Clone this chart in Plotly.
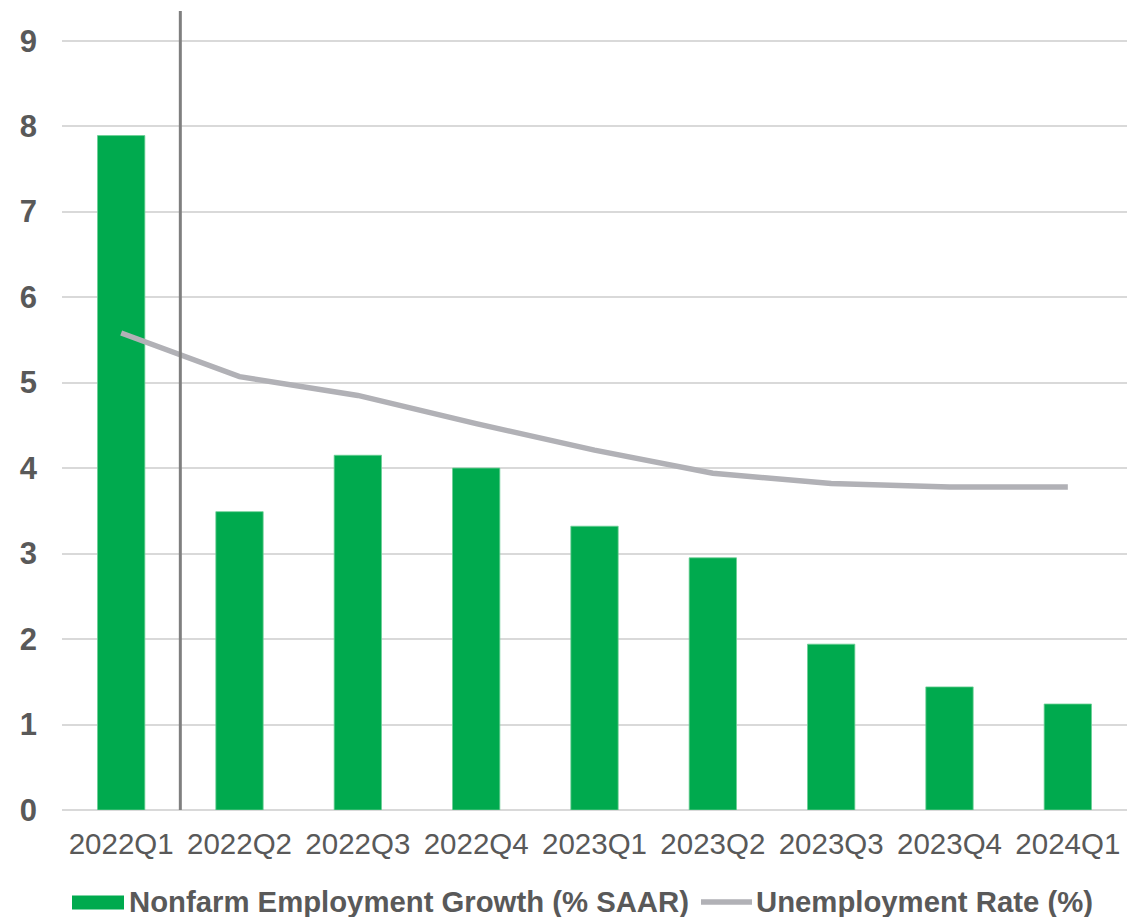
import plotly.graph_objects as go

quarters = ["2022Q1", "2022Q2", "2022Q3", "2022Q4", "2023Q1", "2023Q2", "2023Q3", "2023Q4", "2024Q1"]
employment_growth = [7.89, 3.49, 4.15, 4.00, 3.32, 2.95, 1.94, 1.44, 1.24]
unemployment_rate = [5.58, 5.07, 4.85, 4.52, 4.21, 3.94, 3.82, 3.78, 3.78]
y_ticks = [0, 1, 2, 3, 4, 5, 6, 7, 8, 9]

bar_name = "Nonfarm Employment Growth (% SAAR)"
line_name = "Unemployment Rate (%)"

GREEN = "#00AA4E"
GRAY_LINE = "#B1B1B6"
TEXT = "#595959"
FONT = "Liberation Sans, Arial, sans-serif"

W, H = 1130, 917
ML, MR, MT, MB = 62, 3, 11, 107
plot_w = W - ML - MR
plot_h = H - MT - MB

def px_x(p):
    return (p - ML) / plot_w

def px_y(p):
    return (H - MB - p) / plot_h

fig = go.Figure()
fig.add_trace(go.Bar(
    x=quarters, y=employment_growth, name=bar_name,
    marker=dict(color=GREEN, line=dict(color="#6CCF95", width=0.8)),
    showlegend=False,
))
fig.add_trace(go.Scatter(
    x=quarters, y=unemployment_rate, name=line_name, mode="lines",
    line=dict(color=GRAY_LINE, width=5.5),
    showlegend=False,
))

fig.update_layout(
    width=W, height=H,
    margin=dict(l=ML, r=MR, t=MT, b=MB),
    paper_bgcolor="white", plot_bgcolor="white",
    bargap=0.6,
    font=dict(family=FONT, color=TEXT),
    xaxis=dict(
        type="category", range=[-0.5, 8.5],
        showgrid=False, showline=False, zeroline=False,
        tickfont=dict(family=FONT, size=29.5, color=TEXT),
        ticklabelstandoff=13,
    ),
    yaxis=dict(
        range=[0, plot_h / 85.48],
        tickvals=y_ticks, ticktext=[str(v) for v in y_ticks],
        showgrid=True, gridcolor="#D9D9D9", gridwidth=1.5,
        zeroline=True, zerolinecolor="#D9D9D9", zerolinewidth=1.5,
        showline=False,
        tickfont=dict(family=FONT, size=31, color=TEXT, weight="bold"),
        ticklabelstandoff=24,
    ),
    shapes=[
        dict(type="line", xref="x", yref="paper", x0=0.5, x1=0.5, y0=0, y1=1,
             line=dict(color="#7F7F7F", width=3), layer="above"),
        # legend swatches
        dict(type="rect", xref="paper", yref="paper",
             x0=px_x(72), x1=px_x(124), y0=px_y(909.5), y1=px_y(895.5),
             fillcolor=GREEN, line=dict(width=0)),
        dict(type="line", xref="paper", yref="paper",
             x0=px_x(701), x1=px_x(752), y0=px_y(902), y1=px_y(902),
             line=dict(color=GRAY_LINE, width=5.5)),
    ],
    annotations=[
        dict(xref="paper", yref="paper", x=px_x(127), y=px_y(901),
             xanchor="left", yanchor="middle", showarrow=False,
             text="<b>" + bar_name + "</b>",
             font=dict(family=FONT, size=29.3, color=TEXT)),
        dict(xref="paper", yref="paper", x=px_x(754), y=px_y(901),
             xanchor="left", yanchor="middle", showarrow=False,
             text="<b>" + line_name + "</b>",
             font=dict(family=FONT, size=29.3, color=TEXT)),
    ],
)

fig.write_html("out.html")
